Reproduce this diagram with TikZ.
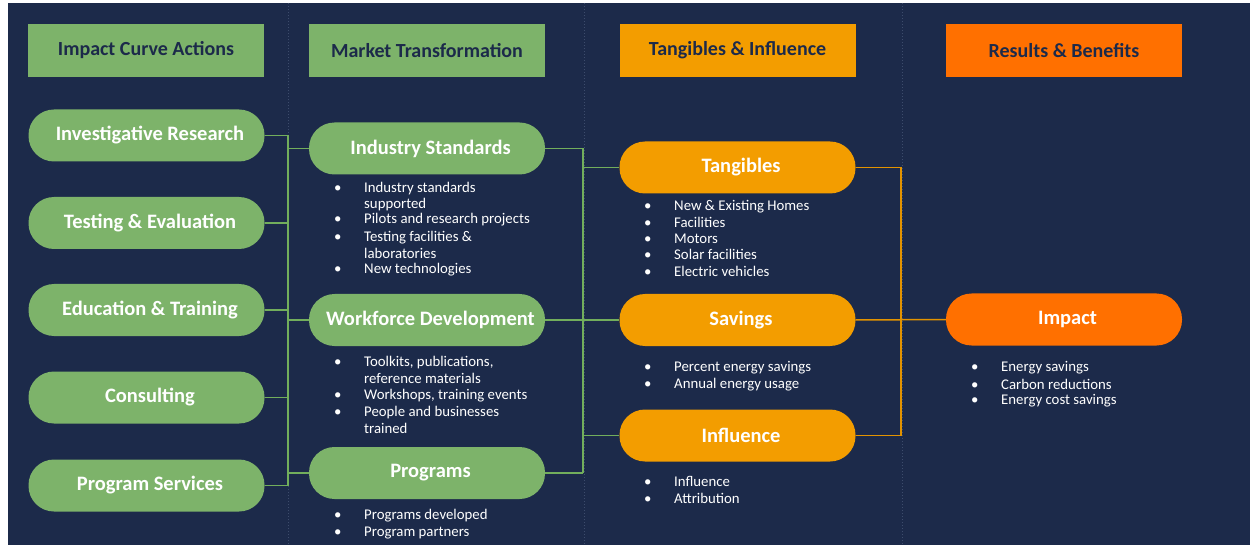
\documentclass[tikz,border=0pt]{standalone}
\usepackage{fontspec}
\setmainfont{Carlito}
\definecolor{navy}{HTML}{1C2A4A}
\definecolor{cgreen}{HTML}{7DB36A}
\definecolor{cline}{HTML}{72AE5C}
\definecolor{corange}{HTML}{F39D00}
\definecolor{cdark}{HTML}{FF7000}
\definecolor{oline}{HTML}{E39300}
\definecolor{divider}{HTML}{3D4C6C}
\newcommand\pillfont{\bfseries\fontsize{20.5}{24}\selectfont}
\newcommand\hdrfont{\bfseries\fontsize{20}{24}\selectfont}
\newcommand\bulfont{\fontsize{14.8}{17}\selectfont}
\newcommand\bdot{\makebox[30pt][l]{\textbullet}}
\tikzset{
  pill/.style={rectangle, rounded corners=25.5pt, minimum width=236pt,
    minimum height=52pt, inner sep=0pt, text=white, font=\pillfont,
    execute at begin node=\hspace*{7pt}},
  gpill/.style={pill, fill=cgreen},
  opill/.style={pill, fill=corange},
  rpill/.style={pill, fill=cdark},
  hdr/.style={rectangle, minimum width=236pt, minimum height=53pt,
    inner sep=0pt, text=navy, font=\hdrfont},
  bul/.style={anchor=base west, inner sep=0pt, text=white, font=\bulfont},
  gconn/.style={draw=cline, line width=1.5pt},
  oconn/.style={draw=oline, line width=1.5pt},
  divline/.style={draw=divider, line width=1pt, dotted}
}
\begin{document}
\begin{tikzpicture}[x=1pt,y=-1pt]
% canvas
\fill[white] (0,0) rectangle (1250,545);
\fill[navy] (8,3) rectangle (1250,545);
\useasboundingbox (0,0) rectangle (1250,545);

% column dividers
\coordinate (d1t) at (288,3);   \coordinate (d1b) at (288,545);
\coordinate (d2t) at (584,3);   \coordinate (d2b) at (584,545);
\coordinate (d3t) at (902,3);   \coordinate (d3b) at (902,545);
\draw[divline] (d1t) -- (d1b);
\draw[divline] (d2t) -- (d2b);
\draw[divline] (d3t) -- (d3b);

% column headers
\node[hdr, fill=cgreen] (h1) at (146,50.5) {Impact Curve Actions};
\node[hdr, fill=cgreen] (h2) at (427,50.5) {Market Transformation};
\node[hdr, fill=corange] (h3) at (737.5,50.5) {Tangibles \& Influence};
\node[hdr, fill=cdark] (h4) at (1064,50.5) {Results \& Benefits};

% impact curve actions
\node[gpill] (ir) at (146.5,135.5) {Investigative Research};
\node[gpill] (te) at (146.5,223) {Testing \& Evaluation};
\node[gpill] (et) at (146.5,310) {Education \& Training};
\node[gpill] (co) at (146.5,397.5) {Consulting};
\node[gpill] (ps) at (146.5,485.5) {Program Services};

% market transformation
\node[gpill] (is) at (427,148.5) {Industry Standards};
\node[gpill] (wd) at (427,320) {Workforce Development};
\node[gpill] (pg) at (427,473) {Programs};

% tangibles and influence
\node[opill] (tg) at (737.5,167.5) {Tangibles};
\node[opill] (sv) at (737.5,320) {Savings};
\node[opill] (in) at (737.5,435.5) {Influence};

% results
\node[rpill] (im) at (1064,319.5) {Impact};

% bus positions
\coordinate (busA) at (288,0);
\coordinate (busB) at (583,0);
\coordinate (busC) at (901,0);

% actions -> market transformation
\foreach \n in {ir,te,et,co,ps}
  \draw[gconn] (\n.east) -- (\n.east -| busA);
\draw[gconn] (ir.east -| busA) -- (ps.east -| busA);
\foreach \n in {is,wd,pg}
  \draw[gconn] (busA |- \n.west) -- (\n.west);

% market transformation -> tangibles and influence
\draw[gconn] (is.east) -- (is.east -| busB);
\draw[gconn] (pg.east) -- (pg.east -| busB);
\draw[gconn] (is.east -| busB) -- (pg.east -| busB);
\draw[gconn] (busB |- tg.west) -- (tg.west);
\draw[gconn] (wd.east) -- (sv.west);
\draw[gconn] (busB |- in.west) -- (in.west);

% tangibles and influence -> impact
\draw[oconn] (tg.east) -- (tg.east -| busC);
\draw[oconn] (in.east) -- (in.east -| busC);
\draw[oconn] (tg.east -| busC) -- (in.east -| busC);
\draw[oconn] (sv.east) -- (im.west);

% bullet lists
\node[bul] (is1) at (334,192.5) {\bdot Industry standards};
\node[bul] (is2) at (364,208.7) {supported};
\node[bul] (is3) at (334,224) {\bdot Pilots and research projects};
\node[bul] (is4) at (334,241.7) {\bdot Testing facilities \&};
\node[bul] (is5) at (364,258.3) {laboratories};
\node[bul] (is6) at (334,273.5) {\bdot New technologies};

\node[bul] (wd1) at (334,366) {\bdot Toolkits, publications,};
\node[bul] (wd2) at (364,383) {reference materials};
\node[bul] (wd3) at (334,399) {\bdot Workshops, training events};
\node[bul] (wd4) at (334,416) {\bdot People and businesses};
\node[bul] (wd5) at (364,433) {trained};

\node[bul] (pg1) at (334,519) {\bdot Programs developed};
\node[bul] (pg2) at (334,536) {\bdot Program partners};

\node[bul] (tg1) at (644,211) {\bdot New \& Existing Homes};
\node[bul] (tg2) at (644,227.7) {\bdot Facilities};
\node[bul] (tg3) at (644,243.3) {\bdot Motors};
\node[bul] (tg4) at (644,260) {\bdot Solar facilities};
\node[bul] (tg5) at (644,276.7) {\bdot Electric vehicles};

\node[bul] (sv1) at (644,371) {\bdot Percent energy savings};
\node[bul] (sv2) at (644,388) {\bdot Annual energy usage};

\node[bul] (in1) at (644,486) {\bdot Influence};
\node[bul] (in2) at (644,503) {\bdot Attribution};

\node[bul] (im1) at (971,371.7) {\bdot Energy savings};
\node[bul] (im2) at (971,389) {\bdot Carbon reductions};
\node[bul] (im3) at (971,404) {\bdot Energy cost savings};
\end{tikzpicture}
\end{document}
